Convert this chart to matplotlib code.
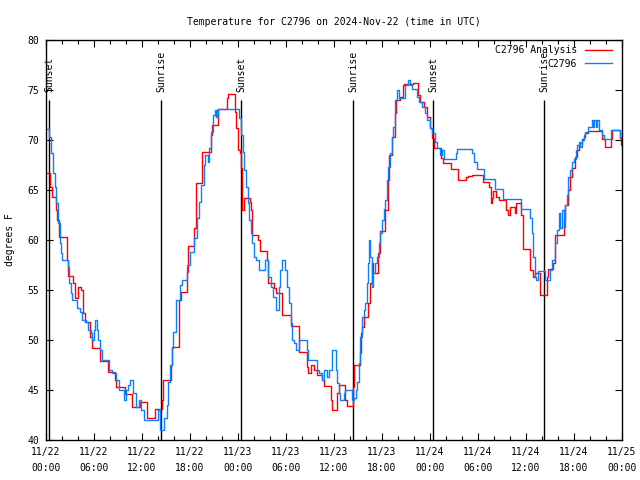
import matplotlib
matplotlib.use("Agg")
import matplotlib.pyplot as plt
from matplotlib.ticker import MultipleLocator, FixedLocator

# ---- data (hours since 2024-11-22 00:00 UTC) ----
obs_hours = [0.0, 0.4, 0.6, 0.85, 1.1, 1.3, 1.5, 1.7, 1.85, 2.0, 2.75, 2.9, 3.1, 3.3, 3.9, 4.2, 4.5, 4.95,
             5.25, 5.6, 5.8, 6.0, 6.1, 6.4, 6.5, 6.75, 7.0, 7.9, 8.3, 8.7, 9.1, 9.75, 10.0, 10.3, 10.5, 10.9,
             11.2, 11.6, 11.9, 12.2, 14.0, 14.2, 14.8, 15.1, 15.3, 15.5, 15.7, 15.9, 16.2, 16.8, 17.0, 17.6,
             18.0, 18.5, 18.9, 19.1, 19.4, 19.7, 19.9, 20.2, 20.4, 20.6, 20.9, 21.1, 21.2, 21.3, 21.4, 21.5,
             24.1, 24.4, 24.6, 24.8, 25.0, 25.2, 25.4, 25.6, 25.8, 26.0, 26.2, 26.6, 27.4, 27.8, 28.1, 28.4,
             28.7, 29.1, 29.3, 29.5, 29.9, 30.1, 30.4, 30.6, 30.8, 31.0, 31.2, 31.6, 32.6, 32.8, 33.9, 34.1,
             34.5, 34.7, 35.1, 35.4, 35.8, 36.2, 36.4, 36.6, 36.8, 37.2, 37.4, 38.2, 38.5, 38.7, 38.9, 39.1,
             39.3, 39.5, 39.7, 39.9, 40.1, 40.25, 40.35, 40.5, 40.7, 40.9, 41.1, 41.4, 41.6, 41.8, 42.0, 42.2,
             42.4, 42.6, 42.8, 43.0, 43.2, 43.4, 43.6, 43.85, 44.1, 44.9, 45.2, 45.5, 45.7, 46.4, 46.6, 47.0,
             47.4, 47.6, 48.0, 48.3, 48.6, 48.9, 49.3, 49.55, 49.8, 51.2, 51.4, 53.3, 53.5, 53.9, 54.8, 56.1,
             57.1, 59.4, 60.5, 60.7, 60.9, 61.1, 61.3, 61.5, 62.4, 63.0, 63.3, 63.6, 63.9, 64.1, 64.3, 64.5,
             64.7, 64.9, 65.1, 65.3, 65.5, 65.75, 66.0, 66.2, 66.4, 66.6, 66.8, 67.0, 67.2, 67.4, 67.8, 68.2,
             68.4, 68.5, 68.7, 68.9, 69.1, 69.5, 69.7, 70.6, 71.75, 72.0]
obs_temps = [71.1, 70.3, 68.7, 66.7, 65.3, 63.7, 61.7, 59.7, 58.7, 58.0, 57.3, 55.7, 54.7, 54.0, 53.2, 52.8, 52.0, 51.8,
             51.0, 50.7, 50.0, 51.0, 52.0, 51.0, 50.0, 49.0, 48.0, 47.0, 46.7, 46.0, 45.0, 44.0, 45.0, 45.5, 46.0, 44.7,
             43.3, 44.0, 43.0, 42.0, 43.0, 41.0, 42.2, 43.5, 45.8, 47.5, 49.2, 50.8, 54.0, 55.5, 56.0, 57.5,
             58.8, 60.2, 62.2, 63.8, 65.5, 67.5, 68.5, 67.8, 69.2, 70.8, 72.5, 73.0, 72.3, 73.0, 72.3, 73.1,
             72.2, 70.5, 68.8, 67.0, 65.3, 63.7, 62.0, 60.7, 59.7, 58.3, 58.0, 57.0, 58.0, 56.3, 55.3, 54.3,
             53.0, 55.3, 57.0, 58.0, 57.0, 55.3, 53.7, 51.7, 50.0, 49.7, 49.0, 50.0, 49.0, 48.0, 47.0, 46.7,
             46.0, 47.0, 46.3, 47.0, 49.0, 47.0, 45.7, 44.7, 44.0, 44.7, 45.0, 44.0, 44.2, 45.0, 45.8, 47.7,
             50.3, 52.3, 53.0, 53.7, 55.7, 57.7, 60.0, 58.3, 55.3, 56.7, 57.7, 58.3, 59.7, 60.7, 62.0, 63.1,
             64.0, 66.0, 67.3, 68.7, 70.3, 71.3, 74.0, 75.0, 74.2, 75.5, 76.0, 75.5, 75.1, 74.3, 73.8, 73.3,
             72.7, 72.0, 71.2, 70.7, 69.8, 69.2, 68.5, 69.0, 68.1, 68.7, 69.1, 68.7, 67.8, 67.1, 66.1, 65.1,
             64.1, 63.1, 62.2, 60.7, 58.3, 56.3, 56.0, 56.9, 56.0, 57.0, 58.0, 59.7, 61.0, 62.7, 61.2, 63.0,
             61.3, 63.5, 64.5, 66.3, 67.0, 67.8, 68.1, 69.0, 69.5, 69.8, 69.3, 70.0, 70.5, 70.8, 71.3, 72.0,
             71.3, 72.0, 71.3, 72.0, 71.0, 70.5, 70.1, 71.0, 70.3, 70.3]

ana_hours = [0.0, 0.5, 0.75, 1.25, 1.4, 1.6, 2.6, 2.75, 3.4, 3.6, 4.0, 4.4, 4.65, 4.85, 5.5, 5.7, 6.7, 7.8,
             8.6, 8.8, 9.9, 10.75, 11.7, 12.6, 13.6, 14.45, 14.6, 15.6, 15.8, 16.6, 16.85, 17.6, 17.8, 18.55,
             18.7, 19.5, 20.6, 20.8, 21.55, 22.6, 22.75, 23.6, 23.8, 24.0, 24.2, 24.4, 24.55, 24.7, 25.45,
             25.6, 25.7, 26.5, 26.7, 27.6, 27.75, 28.5, 28.7, 29.5, 30.6, 31.6, 32.6, 32.8, 33.1, 33.5, 33.9,
             34.5, 34.7, 35.6, 35.8, 36.4, 36.6, 37.4, 37.6, 38.35, 38.5, 39.2, 39.35, 39.45, 39.75, 40.3,
             40.5, 40.7, 40.9, 41.55, 41.7, 42.4, 42.75, 42.85, 43.3, 43.6, 43.75, 44.3, 44.6, 44.75, 45.9,
             46.55, 46.8, 47.2, 47.6, 48.0, 48.3, 48.55, 49.4, 49.6, 50.6, 51.5, 52.5, 52.7, 53.2, 54.6, 55.4,
             55.6, 55.75, 55.9, 56.3, 56.6, 57.5, 57.75, 58.0, 58.6, 58.8, 59.4, 59.65, 60.5, 60.9, 61.1,
             61.75, 62.6, 62.8, 63.4, 63.65, 64.7, 64.9, 65.3, 65.5, 65.75, 66.1, 66.4, 66.6, 66.8, 67.0,
             67.2, 67.4, 67.7, 69.5, 69.9, 70.6, 70.8, 71.75, 71.9, 72.0]
ana_temps = [66.7, 65.3, 64.3, 63.0, 62.0, 60.3, 58.0, 56.4, 55.7, 54.2, 55.3, 55.0, 52.7, 51.8, 50.3, 49.2, 47.9, 46.8,
             46.0, 45.3, 44.6, 43.3, 43.8, 42.2, 43.1, 44.0, 46.0, 47.5, 49.3, 54.0, 54.8, 56.8, 59.4, 61.2,
             65.7, 68.8, 70.5, 71.5, 73.1, 74.2, 74.6, 72.8, 71.2, 69.0, 68.7, 67.2, 63.0, 64.2, 63.8,
             63.0, 60.5, 60.0, 58.9, 58.0, 55.7, 55.2, 54.7, 52.5, 51.4, 48.8, 47.3, 46.7, 47.5, 47.0, 46.5,
             46.0, 45.4, 44.0, 43.0, 44.7, 45.5, 44.0, 43.4, 45.3, 47.5, 48.7, 50.7, 51.3, 52.3, 53.7,
             55.7, 57.7, 56.7, 58.7, 60.9, 63.0, 66.0, 68.5, 70.3, 72.7, 74.0, 74.3, 75.5, 75.6, 75.7,
             74.5, 73.8, 73.3, 72.3, 71.2, 70.2, 69.2, 68.2, 67.7, 67.1, 66.0, 66.3, 66.4, 66.5, 65.8, 65.3,
             63.7, 64.2, 64.9, 64.3, 64.0, 63.0, 62.5, 63.3, 62.7, 63.7, 62.5, 59.1, 57.0, 56.3, 56.7,
             54.5, 56.3, 57.1, 57.7, 60.5, 62.0, 63.5, 65.0, 66.3, 67.2, 68.3, 69.0, 69.5, 69.7, 70.1,
             70.3, 70.7, 70.9, 70.1, 69.3, 70.1, 71.0, 70.2, 69.5, 69.5]

sun_hours = [0.4, 14.4, 24.4, 38.4, 48.4, 62.3]
sun_labels = ["Sunset", "Sunrise", "Sunset", "Sunrise", "Sunset", "Sunrise"]

xtick_hours = [0, 6, 12, 18, 24, 30, 36, 42, 48, 54, 60, 66, 72]
xtick_labels = ["11/22\n00:00", "11/22\n06:00", "11/22\n12:00", "11/22\n18:00",
                "11/23\n00:00", "11/23\n06:00", "11/23\n12:00", "11/23\n18:00",
                "11/24\n00:00", "11/24\n06:00", "11/24\n12:00", "11/24\n18:00",
                "11/25\n00:00"]

title = "Temperature for C2796 on 2024-Nov-22 (time in UTC)"

# ---- plot ----
plt.rcParams['font.family'] = ['DejaVu Sans Mono']
FS = 7

fig = plt.figure(figsize=(6.4, 4.8), dpi=100)
ax = fig.add_axes([46/640, 40/480, 576/640, 400/480])

ax.vlines(sun_hours, 40, 74, color='black', lw=1.0)
for h, lab in zip(sun_hours, sun_labels):
    ax.text(h, 74.75, lab, rotation=90, ha='center', va='bottom', fontsize=FS)

l1, = ax.plot(ana_hours, ana_temps, drawstyle='steps-post', color='#ff0000', lw=1.0, label='C2796 Analysis')
l2, = ax.plot(obs_hours, obs_temps, drawstyle='steps-post', color='#0a80ff', lw=1.0, label='C2796')

ax.set_xlim(0, 72)
ax.set_ylim(40, 80)
ax.xaxis.set_major_locator(FixedLocator(xtick_hours))
ax.set_xticklabels(xtick_labels, fontsize=FS, linespacing=1.7)
ax.xaxis.set_minor_locator(MultipleLocator(2))
ax.yaxis.set_major_locator(MultipleLocator(5))
ax.tick_params(axis='both', which='both', direction='in', top=True, right=True, labelsize=FS)
ax.tick_params(axis='both', which='major', length=5, width=0.8)
ax.tick_params(axis='both', which='minor', length=3, width=0.8)
ax.tick_params(axis='x', pad=5)
ax.tick_params(axis='y', pad=5)
for s in ax.spines.values():
    s.set_linewidth(1.0)

ax.set_ylabel("degrees F", fontsize=FS, labelpad=9)
ax.set_title(title, fontsize=FS, pad=11)

ax.legend(handles=[l1, l2], loc='upper right', frameon=False, markerfirst=False,
          fontsize=FS, handlelength=2.8, handletextpad=0.8, labelspacing=0.4,
          bbox_to_anchor=(1.0 - 10/576, 1.0 - 5/400), borderaxespad=0.0, borderpad=0.0)

fig.savefig("out.png", dpi=100)
